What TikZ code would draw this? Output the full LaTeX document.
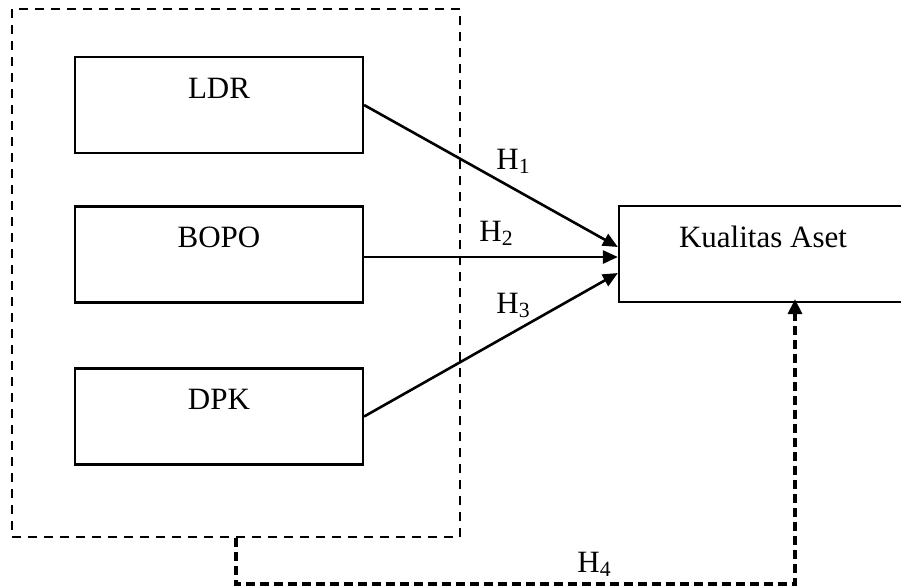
\documentclass[tikz,border=0pt]{standalone}
\usepackage{fontspec}
\setmainfont{Liberation Serif}
\usetikzlibrary{arrows.meta}
\begin{document}
\begin{tikzpicture}[x=0.5pt,y=-0.5pt,
  box/.style={draw, line width=1.1pt, rectangle, inner sep=0pt, minimum width=144pt, minimum height=48pt},
  lbl/.style={anchor=base, font=\fontsize{15.5}{18}\selectfont, inner sep=0pt},
  hlbl/.style={anchor=base west, font=\fontsize{15.5}{18}\selectfont, inner sep=0pt},
  grpbox/.style={draw, dash pattern=on 4.5pt off 3.5pt, line width=1pt, inner sep=0pt, minimum width=224pt, minimum height=264pt},
  arr/.style={line width=1.3pt, -{Triangle[length=7.5pt,width=6.5pt]}},
  darr/.style={line width=1.6pt, dash pattern=on 4.5pt off 2.5pt, -{Triangle[length=7.5pt,width=7pt]}}]
\useasboundingbox (0,0) rectangle (901,586);
\clip (0,0) rectangle (901,586);
\node[grpbox] (grp) at (236,273) {};
\node[box] (ldr) at (219,105) {};
\node[box] (bopo) at (219,254.5) {};
\node[box] (dpk) at (219,416.5) {};
\node[box] (ka) at (763,254) {};
\node[lbl] (ldrt) at (219,98) {LDR};
\node[lbl] (bopot) at (219,247) {BOPO};
\node[lbl] (dpkt) at (219,409) {DPK};
\node[lbl] (kat) at (763,247) {Kualitas Aset};
\node[hlbl] (h1) at (496,169) {H\textsubscript{1}};
\node[hlbl] (h2) at (479,241) {H\textsubscript{2}};
\node[hlbl] (h3) at (496,313) {H\textsubscript{3}};
\node[hlbl] (h4) at (577,572) {H\textsubscript{4}};
\draw[arr] (ldr.east) -- ([yshift=3.5pt]ka.west);
\draw[arr] ([yshift=-1.25pt]bopo.east) -- ([yshift=-1.25pt]bopo.east -| ka.west);
\draw[arr] (dpk.east) -- ([yshift=-9.5pt]ka.west);
\coordinate (h4a) at (236,584);
\coordinate (h4b) at (795,584);
\draw[darr] (grp.south) -- (grp.south |- h4a) -- (h4b) -- ([yshift=2pt]h4b |- ka.south);
\end{tikzpicture}
\end{document}
